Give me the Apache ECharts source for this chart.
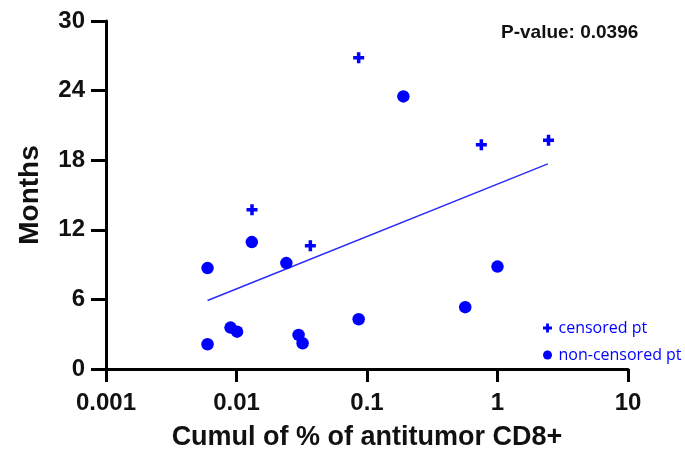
<!DOCTYPE html>
<html>
<head>
<meta charset="utf-8">
<script src="https://cdn.jsdelivr.net/npm/echarts@6/dist/echarts.min.js"></script>
<style>
html,body{margin:0;padding:0;background:#fff;}
#chart{width:685px;height:457px;}
</style>
</head>
<body>
<div id="chart"></div>
<script>
// ---- data ----
const censoredX = [0.0863, 0.752, 2.46, 0.01315, 0.0368];
const censoredY = [26.83, 19.34, 19.72, 13.73, 10.62];
const nonCensoredX = [0.19, 0.0131, 0.0241, 0.0060, 0.0090, 0.0101, 0.0060, 0.0299, 0.0321, 0.0863, 0.566, 1.0];
const nonCensoredY = [23.5, 10.94, 9.13, 8.70, 3.57, 3.22, 2.13, 2.94, 2.22, 4.29, 5.33, 8.83];
const fitX = [0.0060, 2.43];
const fitY = [5.90, 17.68];
const xTickLabels = ['0.001', '0.01', '0.1', '1', '10'];
const yTickLabels = ['0', '6', '12', '18', '24', '30'];
const pValueText = 'P-value: 0.0396';
const seriesNames = ['censored pt', 'non-censored pt'];

const crossPath = 'path://M3.4,0H6.6V3.4H10V6.6H6.6V10H3.4V6.6H0V3.4H3.4Z';
const blue = '#0000ff';
const bold = 'Liberation Sans';

const chart = echarts.init(document.getElementById('chart'), null, {renderer: 'canvas'});
chart.setOption({
  animation: false,
  backgroundColor: '#ffffff',
  title: {
    text: pValueText,
    left: 496, top: 18,
    textStyle: {fontFamily: bold, fontWeight: 'bold', fontSize: 19, color: '#111'}
  },
  grid: {left: 106, right: 57, top: 21, bottom: 88, containLabel: false},
  legend: {
    orient: 'vertical',
    left: 538, top: 314,
    itemWidth: 12, itemHeight: 9,
    itemGap: 9,
    data: [
      {name: seriesNames[0], icon: crossPath},
      {name: seriesNames[1], icon: 'circle'}
    ],
    textStyle: {fontFamily: 'Open Sans', fontSize: 16, color: blue, lineHeight: 18}
  },
  xAxis: {
    type: 'log', logBase: 10, min: 0.001, max: 10,
    name: 'Cumul of % of antitumor CD8+',
    nameLocation: 'middle', nameGap: 55,
    nameTextStyle: {fontFamily: bold, fontWeight: 'bold', fontSize: 27, color: '#111'},
    axisLine: {lineStyle: {color: '#000', width: 3}},
    axisTick: {show: true, length: 13, lineStyle: {color: '#000', width: 3}},
    minorTick: {show: false},
    splitLine: {show: false},
    axisLabel: {
      margin: 22,
      fontFamily: bold, fontWeight: 'bold', fontSize: 24, color: '#111',
      formatter: v => xTickLabels[Math.round(Math.log10(v)) + 3]
    }
  },
  yAxis: {
    type: 'value', min: 0, max: 30, interval: 6,
    name: 'Months',
    nameLocation: 'middle', nameGap: 62, nameRotate: 90,
    nameTextStyle: {fontFamily: bold, fontWeight: 'bold', fontSize: 28, color: '#111'},
    axisLine: {show: true, lineStyle: {color: '#000', width: 3}},
    axisTick: {show: true, length: 15, lineStyle: {color: '#000', width: 3}},
    splitLine: {show: false},
    axisLabel: {
      margin: 21,
      fontFamily: bold, fontWeight: 'bold', fontSize: 24, color: '#111',
      formatter: v => yTickLabels[Math.round(v / 6)]
    }
  },
  series: [
    {
      name: seriesNames[0], type: 'scatter',
      symbol: crossPath, symbolSize: 11,
      itemStyle: {color: blue, opacity: 1},
      data: censoredX.map((x, i) => [x, censoredY[i]]),
      z: 3
    },
    {
      name: seriesNames[1], type: 'scatter',
      symbol: 'circle', symbolSize: 12.5,
      itemStyle: {color: blue, opacity: 1},
      data: nonCensoredX.map((x, i) => [x, nonCensoredY[i]]),
      z: 3
    },
    {
      name: 'fit', type: 'line',
      showSymbol: false, symbol: 'none',
      lineStyle: {color: '#2a2aff', width: 1.5},
      data: fitX.map((x, i) => [x, fitY[i]]),
      z: 2, silent: true
    }
  ]
});
</script>
</body>
</html>
